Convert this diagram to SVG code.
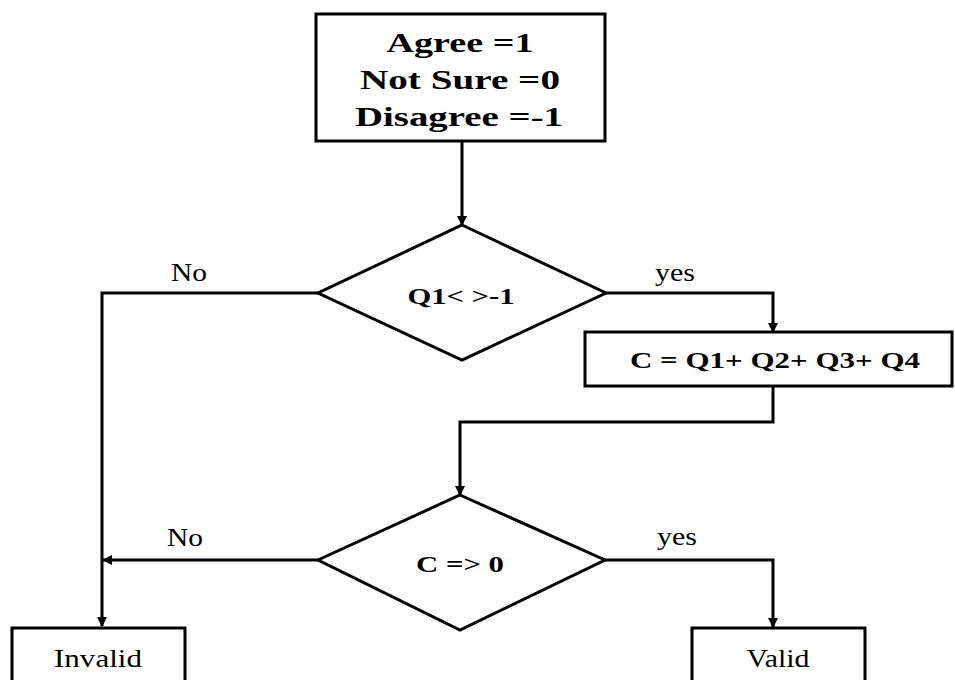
<svg xmlns="http://www.w3.org/2000/svg" width="955" height="680" viewBox="0 0 955 680">
<style>
.shape{fill:#fff;stroke:#000;stroke-width:3}
.conn{fill:none;stroke:#000;stroke-width:3}
.b{font-family:"Liberation Serif","Times New Roman",serif;font-weight:bold;fill:#000;text-anchor:middle}
.r{font-family:"Liberation Serif","Times New Roman",serif;fill:#000;text-anchor:middle;font-size:25px}
</style>
<defs>
<marker id="ah" markerWidth="10" markerHeight="10" refX="9" refY="5" orient="auto" markerUnits="userSpaceOnUse">
<path d="M0,0 L10,5 L0,10 Z" fill="#000"/>
</marker>
</defs>
<rect width="955" height="680" fill="#fff"/>
<g id="connectors">
<path class="conn" d="M462,141 V225" marker-end="url(#ah)"/>
<path class="conn" d="M318,293 H102 V626" marker-end="url(#ah)"/>
<path class="conn" d="M606,293 H773 V332" marker-end="url(#ah)"/>
<path class="conn" d="M773,386 V422 H460 V495" marker-end="url(#ah)"/>
<path class="conn" d="M318,560 H103" marker-end="url(#ah)"/>
<path class="conn" d="M605,560 H773 V627" marker-end="url(#ah)"/>
<text class="r" x="189" y="281" textLength="36" lengthAdjust="spacingAndGlyphs">No</text>
<text class="r" x="675" y="281" textLength="40" lengthAdjust="spacingAndGlyphs">yes</text>
<text class="r" x="185" y="546" textLength="36" lengthAdjust="spacingAndGlyphs">No</text>
<text class="r" x="677" y="545" textLength="40" lengthAdjust="spacingAndGlyphs">yes</text>
</g>
<g id="start">
<rect class="shape" x="316" y="14" width="289" height="127"/>
<text class="b" x="460" y="52" font-size="28" textLength="147" lengthAdjust="spacingAndGlyphs">Agree =1</text>
<text class="b" x="460" y="89" font-size="28" textLength="200" lengthAdjust="spacingAndGlyphs">Not Sure =0</text>
<text class="b" x="459" y="126" font-size="28" textLength="208" lengthAdjust="spacingAndGlyphs">Disagree =-1</text>
</g>
<g id="decision1">
<polygon class="shape" points="462,225 606,293 462,360 318,293"/>
<text class="b" x="461" y="304" font-size="23" textLength="107" lengthAdjust="spacingAndGlyphs">Q1&lt; &gt;-1</text>
</g>
<g id="compute">
<rect class="shape" x="585" y="332" width="367" height="54"/>
<text class="b" x="775" y="368" font-size="24" textLength="290" lengthAdjust="spacingAndGlyphs">C = Q1+ Q2+ Q3+ Q4</text>
</g>
<g id="decision2">
<polygon class="shape" points="460,495 605,560 460,630 318,560"/>
<text class="b" x="460" y="572" font-size="23" textLength="88" lengthAdjust="spacingAndGlyphs">C =&gt; 0</text>
</g>
<g id="invalid">
<rect class="shape" x="12" y="628" width="173" height="60"/>
<text class="r" x="98" y="667" textLength="88" lengthAdjust="spacingAndGlyphs">Invalid</text>
</g>
<g id="valid">
<rect class="shape" x="692" y="628" width="173" height="60"/>
<text class="r" x="778" y="667" textLength="63" lengthAdjust="spacingAndGlyphs">Valid</text>
</g>
</svg>
